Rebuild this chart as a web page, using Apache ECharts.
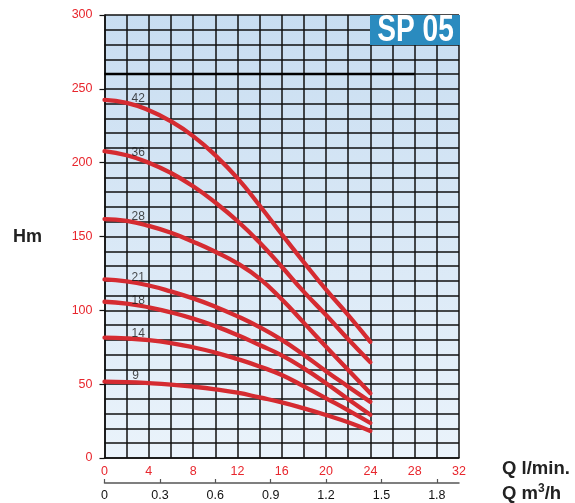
<!DOCTYPE html>
<html>
<head>
<meta charset="utf-8">
<script src="https://cdn.jsdelivr.net/npm/echarts@6/dist/echarts.min.js"></script>
<style>
html,body{margin:0;padding:0;background:#fff;}
#c{width:575px;height:503px;}
</style>
</head>
<body>
<div id="c"></div>
<script>
// Flow values (l/min)
const flow = [0, 2, 4, 6, 8, 10, 12, 14, 16, 18, 20, 22, 24];
// Head (m) for each model (number of stages)
const stages = ['42', '36', '28', '21', '18', '14', '9'];
const head42 = [242.5, 240.5, 235.5, 228, 218, 205, 189.5, 171, 151.5, 132.5, 114, 96.8, 78.7];
const head36 = [207.8, 205, 200, 193, 184, 173, 160.5, 146, 129.5, 112.5, 96.8, 80.4, 64.8];
const head28 = [161.8, 160.5, 157.2, 152.5, 146.5, 139.7, 131.8, 121.5, 107.5, 91.5, 75.4, 59.6, 43.8];
const head21 = [121, 119.6, 116.8, 112.8, 108.1, 102.5, 96, 88.6, 80, 69.8, 58.8, 48.3, 38];
const head18 = [105.8, 104.6, 102, 98.6, 94.4, 89.3, 83.3, 76.5, 69.5, 60.7, 50.6, 39.8, 29.3];
const head14 = [81.5, 81, 79.8, 77.8, 75, 71.4, 67, 62, 56.2, 48.5, 40.4, 32.3, 23.7];
const head9  = [51.7, 51.4, 50.7, 49.7, 48.3, 46.5, 44.2, 41, 37.7, 33.6, 29.1, 24.2, 18.3];
const heads = [head42, head36, head28, head21, head18, head14, head9];
// curve label anchor positions (flow, head)
const labelX = [3.05, 3.05, 3.05, 3.05, 3.05, 3.05, 2.8];
const labelY = [243.5, 207, 163.4, 122.3, 106.5, 84.4, 55.5];
// reference line
const refLineX = [0, 28];
const refLineY = 260;
// tick labels
const flowTicks = [0, 4, 8, 12, 16, 20, 24, 28, 32];
const headTicks = [0, 50, 100, 150, 200, 250, 300];
const m3hTicks = [0, 0.3, 0.6, 0.9, 1.2, 1.5, 1.8];
const title = 'SP 05';

const chart = echarts.init(document.getElementById('c'), null, {renderer: 'canvas'});
const red = '#d52b31';
const gridColor = '#111';

const series = [];
heads.forEach((h, i) => {
  series.push({
    type: 'line', xAxisIndex: 0, yAxisIndex: 0,
    data: flow.map((f, j) => [f, h[j]]),
    smooth: 0.5, showSymbol: false, symbol: 'none',
    lineStyle: {color: red, width: 4.3, cap: 'round'},
    z: 5, silent: true
  });
});
series.push({
  type: 'scatter', xAxisIndex: 0, yAxisIndex: 0, symbolSize: 0, silent: true,
  data: stages.map((s, i) => ({value: [labelX[i], labelY[i]], name: s})),
  label: {show: true, position: 'inside', formatter: p => p.name, color: '#1a1a1a',
          fontSize: 12, fontFamily: 'Liberation Sans, Arial, sans-serif'},
  z: 6
});
series.push({
  type: 'line', xAxisIndex: 0, yAxisIndex: 0, silent: true, symbol: 'none',
  data: refLineX.map(x => [x, refLineY]),
  lineStyle: {color: '#000', width: 2.5}, z: 3
});

const option = {
  animation: false,
  backgroundColor: '#fff',
  grid: {
    left: 104.5, right: 116, top: 15, bottom: 45,
    show: true, borderWidth: 0,
    backgroundColor: new echarts.graphic.LinearGradient(0, 0, 0, 1, [
      {offset: 0, color: '#c8ddf1'}, {offset: 1, color: '#eaf3fb'}
    ])
  },
  xAxis: [{
    type: 'value', min: 0, max: 32, interval: 4, position: 'bottom',
    axisLine: {show: true, onZero: false, lineStyle: {color: gridColor, width: 1.5}},
    axisTick: {show: false},
    minorTick: {show: false, splitNumber: 2},
    minorSplitLine: {show: true, lineStyle: {color: gridColor, width: 1.5}},
    splitLine: {show: true, lineStyle: {color: gridColor, width: 1.5}},
    axisLabel: {color: '#e8262d', fontSize: 12.5, margin: 7, fontFamily: 'Liberation Sans, Arial, sans-serif',
                customValues: flowTicks}
  }, {
    type: 'value', min: 0, max: 1.92, position: 'bottom', offset: 25,
    axisLine: {show: true, onZero: false, lineStyle: {color: '#555', width: 1.5}},
    axisTick: {show: true, inside: true, length: 4, lineStyle: {color: '#555', width: 1.2}, customValues: m3hTicks},
    splitLine: {show: false},
    axisLabel: {color: '#111', fontSize: 12.5, margin: 6, fontFamily: 'Liberation Sans, Arial, sans-serif',
                customValues: m3hTicks, formatter: v => String(v)}
  }],
  yAxis: [{
    type: 'value', min: 0, max: 300, interval: 50,
    axisLine: {show: true, lineStyle: {color: gridColor, width: 1.5}},
    axisTick: {show: true, length: 5, lineStyle: {color: gridColor, width: 1.2}},
    minorTick: {show: false, splitNumber: 5},
    minorSplitLine: {show: true, lineStyle: {color: gridColor, width: 1.5}},
    splitLine: {show: true, lineStyle: {color: gridColor, width: 1.5}},
    axisLabel: {color: '#e8262d', fontSize: 12.5, margin: 12, fontFamily: 'Liberation Sans, Arial, sans-serif',
                customValues: headTicks}
  }],
  graphic: [
    {type: 'rect', shape: {x: 370, y: 15, width: 90, height: 30}, style: {fill: '#2a8bbf'}, z: 20},
    {type: 'text', x: 415.5, y: 31, scaleX: 0.78, z: 21,
     style: {text: title, fill: '#fff', font: 'bold 36px "Liberation Sans", Arial, sans-serif',
             textAlign: 'center', textVerticalAlign: 'middle'}},
    {type: 'text', x: 13, y: 237, style: {text: 'Hm', fill: '#222', font: 'bold 18px "Liberation Sans", Arial, sans-serif',
             textVerticalAlign: 'middle'}},
    {type: 'text', x: 502, y: 469, style: {text: 'Q l/min.', fill: '#222', font: 'bold 18.5px "Liberation Sans", Arial, sans-serif',
             textVerticalAlign: 'middle'}},
    {type: 'text', x: 502, y: 493, style: {
       text: '{a|Q m}{s|3}{a|/h}', textVerticalAlign: 'middle',
       rich: {
         a: {fill: '#222', font: 'bold 18.5px "Liberation Sans", Arial, sans-serif', verticalAlign: 'bottom', lineHeight: 20},
         s: {fill: '#222', font: 'bold 12px "Liberation Sans", Arial, sans-serif', verticalAlign: 'top', lineHeight: 20, padding: [0,0,12,0]}
       }}}
  ],
  series: series
};
chart.setOption(option);
</script>
</body>
</html>
